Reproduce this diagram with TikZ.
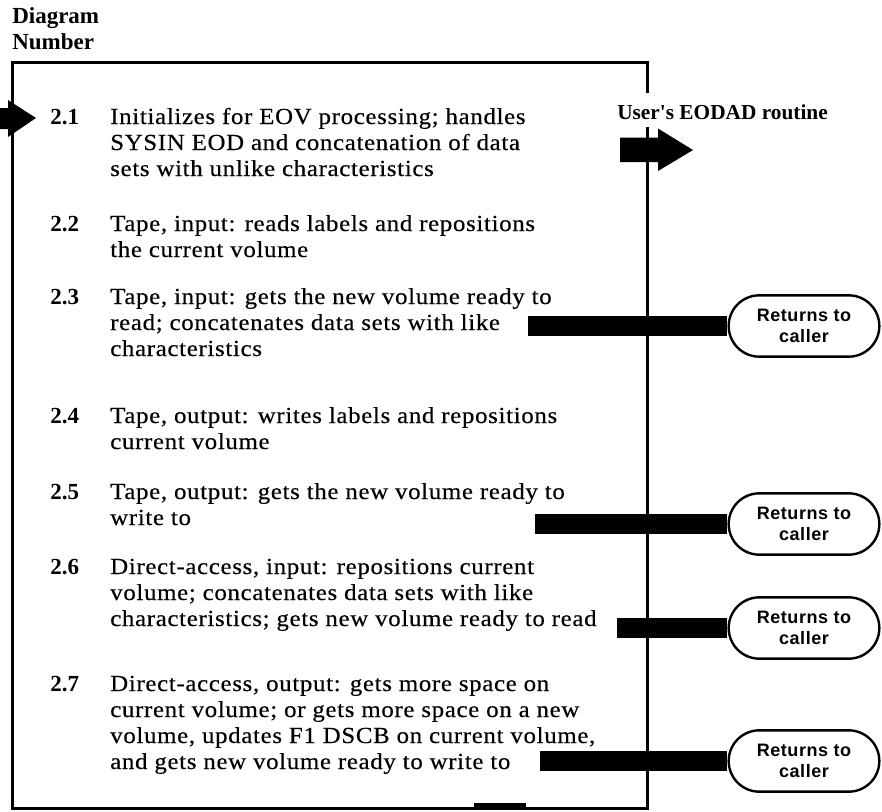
\documentclass[tikz,border=0pt]{standalone}
\usepackage{fontspec}
\setmainfont{Liberation Serif}[FakeStretch=1.08, LetterSpace=3, FakeBold=0.4]
\newfontfamily\headfont{Liberation Serif}
\newfontfamily\capsulefont{Liberation Sans}[LetterSpace=3]
\usetikzlibrary{shapes.misc}

\tikzset{
  px/.style={x=0.75pt, y=-0.75pt},
  frame/.style={line width=2.25pt, line join=miter},
  head/.style={anchor=base west, inner sep=0pt, font=\headfont\bfseries\fontsize{17.25}{19.5}\selectfont},
  num/.style={anchor=base west, inner sep=0pt, font=\headfont\bfseries\fontsize{17.25}{19.5}\selectfont},
  desc/.style={anchor=base west, inner sep=0pt, font=\fontsize{17.25}{19.5}\selectfont},
  exitlabel/.style={anchor=base west, inner sep=0pt, font=\headfont\bfseries\fontsize{16}{19}\selectfont},
  retbox/.style={draw, line width=1.8pt, rounded rectangle, minimum width=113pt,
    minimum height=46pt, inner sep=0pt, align=center,
    font=\capsulefont\bfseries\fontsize{13.5}{15.5}\selectfont},
  bar/.style={line width=15pt},
}

\newcommand{\lines}[1]{\begin{tabular}[t]{@{}l@{}}#1\end{tabular}}

\begin{document}
\begin{tikzpicture}[px]
\useasboundingbox (0,0) rectangle (882,811);

% heading
\node[head] (hd1) at (12,23) {Diagram};
\node[head] (hd2) at (12,49) {Number};

% outer frame, open on the right for the exit label
\draw[frame] (647,93) -- (647,62) -- (12,62) -- (12,808) -- (647,808) -- (647,127);
\fill (474,803) rectangle (526,810);

% entry arrow
\fill (-5,108) -- (8,108) -- (8,100) -- (36,118) -- (8,137) -- (8,129) -- (-5,129) -- cycle;

% exit to the user's routine
\node[exitlabel] (eod) at (617,119) {User's EODAD routine};
\coordinate (ea) at (620,150);
\fill (ea) ++(0,-12.5) -- ++(38,0) -- ++(0,-9) -- (693,150) -- (658,171) -- ++(0,-9) -- ++(-38,0) -- cycle;

% numbered steps
\node[num] (n21) at (50,124) {2.1};
\node[desc] (t21) at (110,124) {\lines{Initializes for EOV processing; handles\\SYSIN EOD and concatenation of data\\sets with unlike characteristics}};

\node[num] (n22) at (50,231) {2.2};
\node[desc] (t22) at (110,231) {\lines{Tape, input: reads labels and repositions\\the current volume}};

\node[num] (n23) at (50,304) {2.3};
\node[desc] (t23) at (110,304) {\lines{Tape, input: gets the new volume ready to\\read; concatenates data sets with like\\characteristics}};

\node[num] (n24) at (50,423) {2.4};
\node[desc] (t24) at (110,423) {\lines{Tape, output: writes labels and repositions\\current volume}};

\node[num] (n25) at (50,499) {2.5};
\node[desc] (t25) at (110,499) {\lines{Tape, output: gets the new volume ready to\\write to}};

\node[num] (n26) at (50,574) {2.6};
\node[desc] (t26) at (110,574) {\lines{Direct-access, input: repositions current\\volume; concatenates data sets with like\\characteristics; gets new volume ready to read}};

\node[num] (n27) at (50,691) {2.7};
\node[desc] (t27) at (110,691) {\lines{Direct-access, output: gets more space on\\current volume; or gets more space on a new\\volume, updates F1 DSCB on current volume,\\and gets new volume ready to write to}};

% returns to caller
\node[retbox] (r23) at (804,326) {Returns to\\caller};
\node[retbox] (r25) at (804,524) {Returns to\\caller};
\node[retbox] (r26) at (804,628) {Returns to\\caller};
\node[retbox] (r27) at (804,761) {Returns to\\caller};

\coordinate (b23) at (528,326);
\coordinate (b25) at (535,524);
\coordinate (b26) at (617,628);
\coordinate (b27) at (540,761);
\draw[bar] (b23) -- (r23.west);
\draw[bar] (b25) -- (r25.west);
\draw[bar] (b26) -- (r26.west);
\draw[bar] (b27) -- (r27.west);
\end{tikzpicture}
\end{document}
